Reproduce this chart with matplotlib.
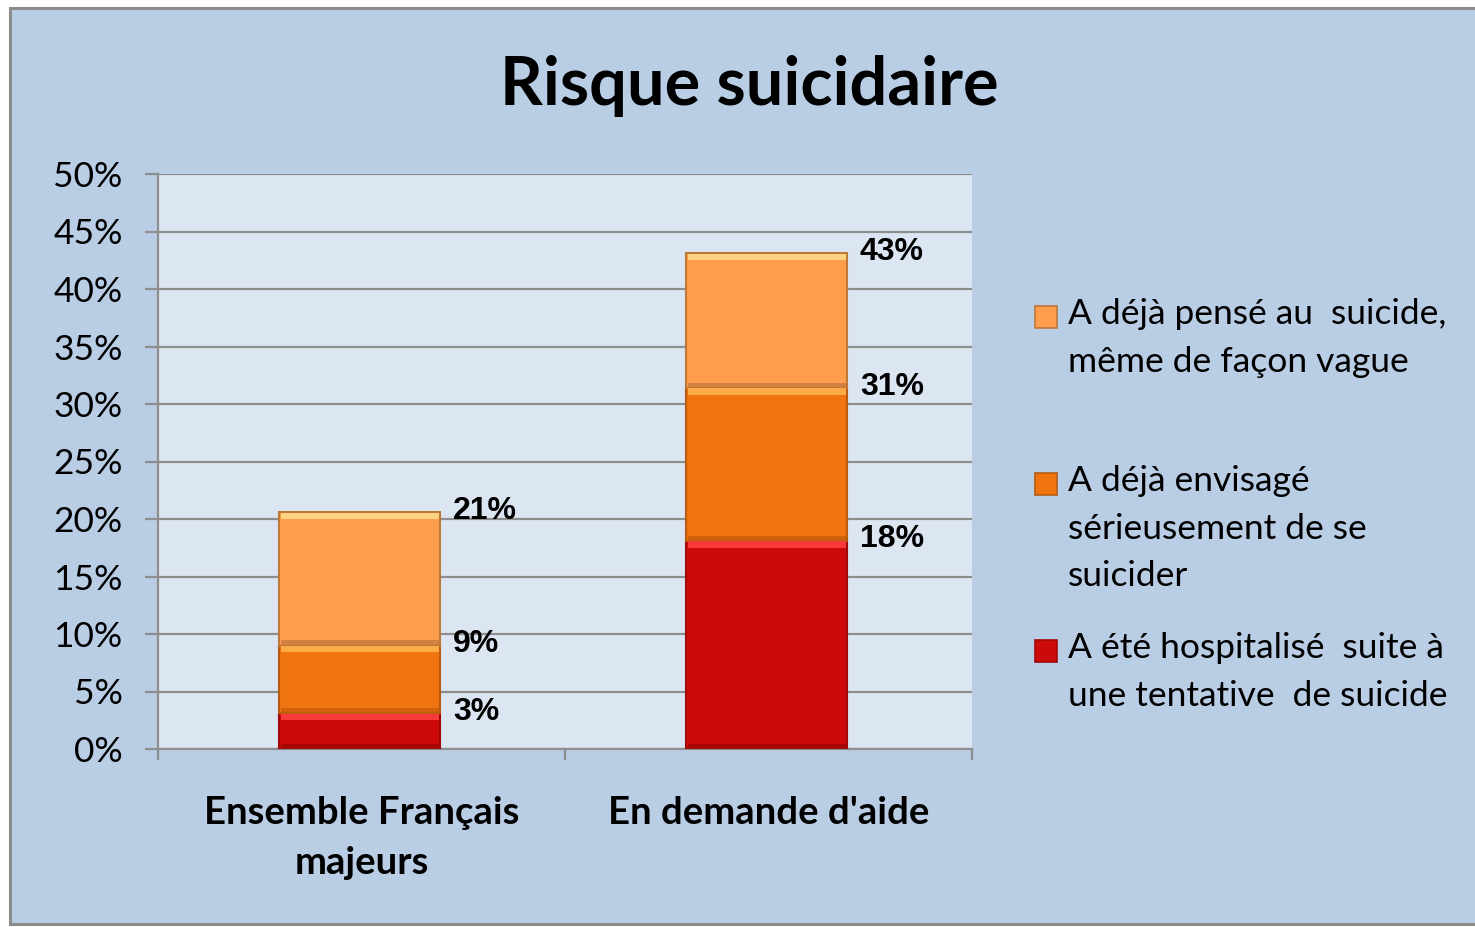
import numpy as np
import matplotlib.pyplot as plt
from matplotlib.patches import Rectangle

plt.rcParams['font.family'] = ['Lato', 'DejaVu Sans']

# data (cumulative shares, in %)
categories = ['Ensemble Français\nmajeurs', "En demande d'aide"]
hospitalise = [3.1, 18.1]
envisage = [9.0, 31.4]
pense = [20.6, 43.1]
series_names = ['A été hospitalisé  suite à\nune tentative  de suicide',
                'A déjà envisagé\nsérieusement de se\nsuicider',
                'A déjà pensé au  suicide,\nmême de façon vague']
yticks = np.arange(0, 51, 5)

# colours: main, highlight, shade, edge
styles = [('#CC0A0A', '#FF4040', '#9E0606', '#A00808'),
          ('#F07410', '#FFB24A', '#C95E0A', '#B85A10'),
          ('#FE9D4B', '#FFD98A', '#C77A3E', '#C07838')]

fig = plt.figure(figsize=(14.75, 9.27), dpi=100)
fig.patch.set_facecolor('white')
# outer chart frame
fig.patches.append(Rectangle((10 / 1475, 3 / 927), 1.02, 916 / 927, transform=fig.transFigure,
                             facecolor='#B9CDE5', edgecolor='#8C8C8C', linewidth=2.2, zorder=-10))

ax = fig.add_axes([158 / 1475, 1 - 749 / 927, 814 / 1475, 575 / 927])
ax.set_facecolor('#DCE6F2')

x = np.arange(len(categories))
w = 0.395
cum = [hospitalise, envisage, pense]
bottoms = [np.zeros(2), np.array(hospitalise), np.array(envisage)]
for k in range(3):
    top = np.array(cum[k])
    bot = bottoms[k]
    main, hi, sh, ed = styles[k]
    ax.bar(x - 0.004, top - bot, w, bottom=bot, color=main, edgecolor=ed, linewidth=1.5, zorder=3)
    ax.bar(x - 0.004, 0.55, w * 0.98, bottom=top - 0.6, color=hi, linewidth=0, zorder=4, alpha=0.9)
    ax.bar(x - 0.004, 0.4, w * 0.98, bottom=bot + 0.05, color=sh, linewidth=0, zorder=4, alpha=0.8)
    for i in range(2):
        ax.annotate(f'{round(top[i]):.0f}%', xy=(x[i] + w / 2, top[i]), xytext=(8, 1),
                    textcoords='offset points', va='center', ha='left',
                    fontsize=23, fontweight='bold', family='Liberation Sans', zorder=6)

ax.set_xlim(-0.5, 1.5)
ax.set_ylim(0, 50)
ax.set_yticks(yticks)
ax.set_yticklabels([f'{v}%' for v in yticks], fontsize=25.5)
ax.yaxis.grid(True, color='#8E8E8E', linewidth=1.6, zorder=1)
ax.set_axisbelow(True)
ax.tick_params(axis='y', length=9.5, width=1.6, color='#8E8E8E', pad=16)

ax.set_xticks(x)
ax.set_xticklabels(categories, fontsize=27.5, fontweight='bold', linespacing=1.56)
ax.set_xticks([-0.5, 0.5, 1.5], minor=True)
ax.tick_params(axis='x', which='major', length=0, pad=34)
ax.tick_params(axis='x', which='minor', length=8, width=1.6, color='#8E8E8E')

for s in ['top', 'right']:
    ax.spines[s].set_visible(False)
for s in ['left', 'bottom']:
    ax.spines[s].set_color('#8E8E8E')
    ax.spines[s].set_linewidth(1.6)

fig.text(0.508, 1 - 86 / 927, 'Risque suicidaire', ha='center', va='center',
         fontsize=48, fontweight='bold')

# legend drawn by hand: top entry first
leg_y = [317, 484, 651]
order = [2, 1, 0]
for yy, k in zip(leg_y, order):
    main, hi, sh, ed = styles[k]
    fig.patches.append(Rectangle((1035 / 1475, 1 - (yy + 11) / 927), 22 / 1475, 22 / 927,
                                 transform=fig.transFigure, facecolor=main, edgecolor=ed,
                                 linewidth=1.2))
    fig.text(1068 / 1475, 1 - (yy - 19) / 927, series_names[k], ha='left', va='top',
             fontsize=25.5, linespacing=1.6)

fig.savefig('out.png', dpi=100)
